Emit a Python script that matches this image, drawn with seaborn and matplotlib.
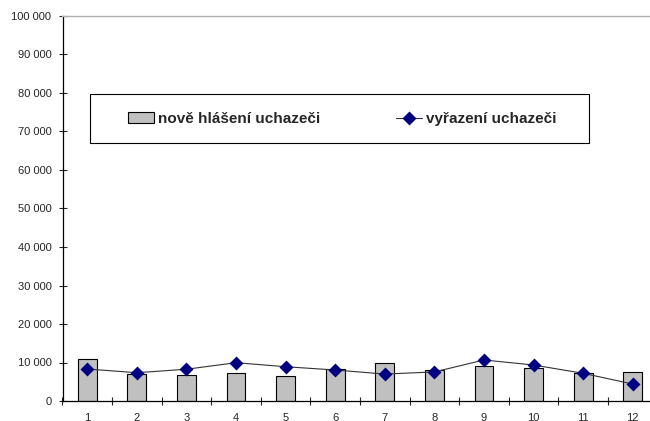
import numpy as np
import pandas as pd
import matplotlib
matplotlib.use("Agg")
import matplotlib.pyplot as plt
from matplotlib.patches import Rectangle
import seaborn as sns
from matplotlib.ticker import FuncFormatter, FixedLocator

sns.set_style("white")
plt.rcParams["font.family"] = ["Liberation Sans", "DejaVu Sans"]

# data
months = [str(m) for m in range(1, 13)]
nove = [10800, 7000, 6750, 7200, 6400, 8250, 9950, 7950, 9100, 8500, 7200, 7600]
vyrazeni = [8300, 7350, 8250, 9950, 8900, 8050, 7000, 7550, 10650, 9350, 7200, 4400]
label_nove = "nově hlášení uchazeči"
label_vyr = "vyřazení uchazeči"

df = pd.DataFrame({"mesic": months, "nove": nove, "vyrazeni": vyrazeni})

fig = plt.figure(figsize=(6.5, 4.21), dpi=100)
ax = fig.add_axes([62.5 / 650, 20 / 421, 595 / 650, 385 / 421])

sns.barplot(data=df, x="mesic", y="nove", color="#c0c0c0", edgecolor="black",
            linewidth=0.8, width=0.38, saturation=1, ax=ax, label=label_nove)
sns.pointplot(data=df, x="mesic", y="vyrazeni", color="#000080", markers="D",
              ax=ax, label=label_vyr)
for ln in ax.lines:
    ln.set_color("#333333")
    ln.set_linewidth(0.8)
    ln.set_markerfacecolor("#000080")
    ln.set_markeredgecolor("#000080")
    ln.set_markersize(5.5)

ax.set_xlim(-0.5, 11.5)
ax.set_ylim(0, 100000)
ax.set_yticks(np.arange(0, 100001, 10000))
ax.yaxis.set_major_formatter(FuncFormatter(lambda v, p: f"{int(v):,}".replace(",", " ")))
ax.set_xlabel("")
ax.set_ylabel("")

ax.xaxis.set_minor_locator(FixedLocator(np.arange(-0.5, 11.6, 1)))
ax.tick_params(axis="x", which="major", length=0, pad=8.5, labelsize=8)
ax.tick_params(axis="x", which="minor", length=6, width=0.8, direction="inout", bottom=True)
ax.tick_params(axis="y", length=6, width=0.8, direction="inout", left=True, pad=5, labelsize=8)

for s in ["left", "bottom"]:
    ax.spines[s].set_color("black")
    ax.spines[s].set_linewidth(0.9)
ax.spines["top"].set_color("#b0b0b0")
ax.spines["top"].set_linewidth(1.0)
ax.spines["right"].set_visible(False)

# legend: bars first, then line; box drawn separately
handles, labels = ax.get_legend_handles_labels()
order = [labels.index(label_nove), labels.index(label_vyr)]
leg = ax.legend([handles[i] for i in order], [labels[i] for i in order],
                loc="center left", ncol=2, frameon=False,
                bbox_to_anchor=(128 / 650, 1 - 119 / 421),
                bbox_transform=fig.transFigure, borderpad=0, borderaxespad=0,
                handlelength=1.7, handletextpad=0.25, columnspacing=5.0,
                prop={"weight": "bold", "size": 11})
fig.patches.append(Rectangle((90 / 650, 1 - 143 / 421), 499 / 650, 49 / 421,
                             transform=fig.transFigure, fill=False,
                             edgecolor="black", linewidth=0.8))

fig.savefig("out.png", dpi=100)
